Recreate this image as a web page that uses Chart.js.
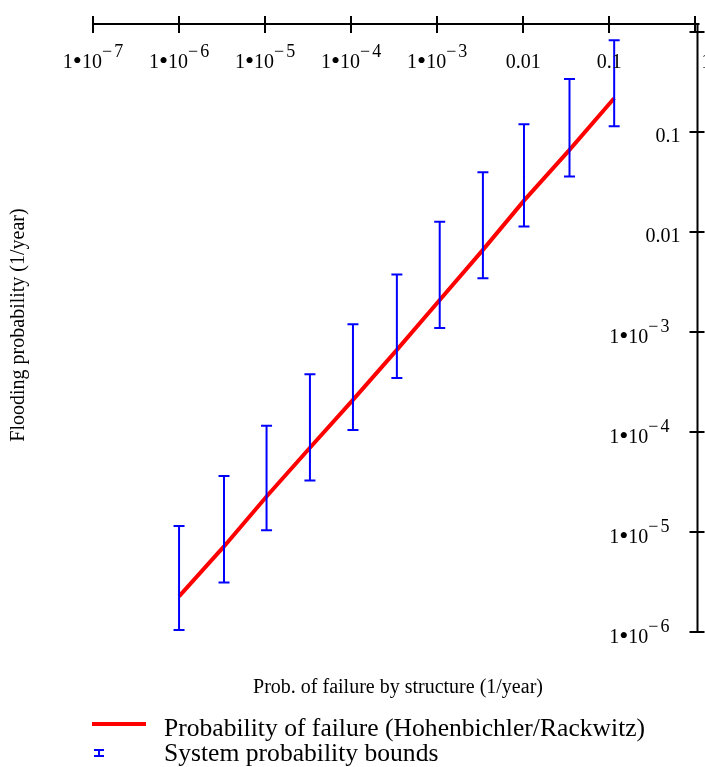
<!DOCTYPE html>
<html>
<head>
<meta charset="utf-8">
<script src="https://cdn.jsdelivr.net/npm/chart.js@4/dist/chart.umd.min.js"></script>
<style>
  html, body { margin: 0; padding: 0; background: #ffffff; }
  canvas { display: block; }
</style>
</head>
<body>
<canvas id="chart" width="705" height="767"></canvas>
<script>
// Failure probability of a single structure (1/year) at each evaluation point
const structProb = [1.0e-6, 3.33e-6, 1.04e-5, 3.32e-5, 1.05e-4, 3.40e-4, 1.07e-3, 3.40e-3, 1.02e-2, 3.45e-2, 0.114];
// Hohenbichler/Rackwitz estimate of the flooding probability
const hrProb = [2.27e-6, 7.18e-6, 2.27e-5, 6.97e-5, 2.10e-4, 6.65e-4, 2.10e-3, 6.65e-3, 2.07e-2, 6.65e-2, 0.219];
// Lower and upper system probability bounds
const lowerBound = [1.05e-6, 3.13e-6, 1.04e-5, 3.28e-5, 1.05e-4, 3.47e-4, 1.10e-3, 3.47e-3, 1.14e-2, 3.60e-2, 0.115];
const upperBound = [1.15e-5, 3.63e-5, 1.16e-4, 3.80e-4, 1.20e-3, 3.77e-3, 1.27e-2, 3.98e-2, 0.120, 0.341, 0.832];
// Decade exponents of the tick marks
const xTickExp = [-7, -6, -5, -4, -3, -2, -1, 0];
const yTickExp = [-6, -5, -4, -3, -2, -1, 0];

const seriesNames = ['Probability of failure (Hohenbichler/Rackwitz)', 'System probability bounds'];
const xTitle = 'Prob. of failure by structure (1/year)';
const yTitle = 'Flooding probability (1/year)';

const RED = '#ff0000';
const BLUE = '#0000ff';
const SERIF = '"Liberation Serif", "Times New Roman", serif';

// Each bound pair becomes one vertical segment; a null point breaks the line between pairs
const boundPts = [];
structProb.forEach((x, i) => {
  boundPts.push({ x: x, y: lowerBound[i] });
  boundPts.push({ x: x, y: upperBound[i] });
  boundPts.push({ x: x, y: null });
});
const hrPts = structProb.map((x, i) => ({ x: x, y: hrProb[i] }));

const MAIN_FONT = '20px ' + SERIF;
const DOT_FONT = '26px ' + SERIF;
const SUP_FONT = '18px ' + SERIF;

// A decade label: either a decimal, or "1•10" followed by a raised "−n"
function decadeRuns(e) {
  if (e >= -2) {
    return [{ t: Math.pow(10, e).toFixed(Math.max(0, -e)), f: MAIN_FONT, dy: 0, gap: 0 }];
  }
  return [
    { t: '1', f: MAIN_FONT, dy: 0, gap: 0 },
    { t: '\u2022', f: DOT_FONT, dy: 1, gap: 0 },
    { t: '10', f: MAIN_FONT, dy: 0, gap: 0 },
    { t: '\u2212', f: SUP_FONT, dy: -11, gap: 0 },
    { t: String(-e), f: SUP_FONT, dy: -11, gap: 2 }
  ];
}

function drawDecade(ctx, e, x, baseline, align) {
  const runs = decadeRuns(e);
  let total = 0;
  runs.forEach(r => { ctx.font = r.f; r.w = ctx.measureText(r.t).width; total += r.w + r.gap; });
  let cx = align === 'center' ? x - total / 2 : x - total;
  ctx.textAlign = 'left';
  ctx.textBaseline = 'alphabetic';
  ctx.fillStyle = '#000';
  runs.forEach(r => {
    cx += r.gap;
    ctx.font = r.f;
    ctx.fillText(r.t, cx, baseline + r.dy);
    cx += r.w;
  });
}

const axesPlugin = {
  id: 'mathAxes',
  afterDraw(chart) {
    const ctx = chart.ctx;
    const xs = chart.scales.x, ys = chart.scales.y;
    const top = chart.chartArea.top, right = chart.chartArea.right;
    const left = xs.getPixelForValue(1e-7), bottom = ys.getPixelForValue(1e-6);
    ctx.save();
    ctx.strokeStyle = '#000';
    ctx.lineWidth = 2;
    // axis lines
    ctx.beginPath();
    ctx.moveTo(left, top); ctx.lineTo(right + 2, top);
    ctx.moveTo(right, top - 1); ctx.lineTo(right, bottom);
    ctx.stroke();
    // x ticks (crossing the top axis)
    ctx.beginPath();
    xTickExp.forEach(e => {
      const px = Math.round(xs.getPixelForValue(Math.pow(10, e)));
      ctx.moveTo(px, top - 8); ctx.lineTo(px, top + 9);
    });
    // y ticks (crossing the right axis)
    yTickExp.forEach(e => {
      const py = Math.round(ys.getPixelForValue(Math.pow(10, e)));
      ctx.moveTo(right - 8, py); ctx.lineTo(right + 7, py);
    });
    ctx.stroke();
    // x tick labels
    xTickExp.forEach(e => {
      const px = xs.getPixelForValue(Math.pow(10, e));
      if (e === 0) {
        ctx.font = MAIN_FONT; ctx.fillStyle = '#000'; ctx.textAlign = 'left';
        ctx.fillText('1', px + 6, top + 44);
      } else {
        drawDecade(ctx, e, px, top + 44, 'center');
      }
    });
    // y tick labels
    yTickExp.forEach(e => {
      if (e === 0) return;
      const py = ys.getPixelForValue(Math.pow(10, e));
      if (e >= -2) drawDecade(ctx, e, right - 17, py + 10, 'right');
      else drawDecade(ctx, e, right - 28, py + 11, 'right');
    });
    // axis titles
    ctx.fillStyle = '#000';
    ctx.font = '20px ' + SERIF;
    ctx.textAlign = 'center';
    ctx.textBaseline = 'middle';
    ctx.fillText(xTitle, 398, 688);
    ctx.save();
    ctx.translate(19, 325);
    ctx.rotate(-Math.PI / 2);
    ctx.fillText(yTitle, 0, 0);
    ctx.restore();
    // legend
    ctx.strokeStyle = RED;
    ctx.lineWidth = 4;
    ctx.beginPath();
    ctx.moveTo(92, 724); ctx.lineTo(146, 724);
    ctx.stroke();
    ctx.strokeStyle = BLUE;
    ctx.lineWidth = 2;
    ctx.beginPath();
    ctx.moveTo(94, 750); ctx.lineTo(104, 750);
    ctx.moveTo(94, 756); ctx.lineTo(104, 756);
    ctx.moveTo(99, 750); ctx.lineTo(99, 756);
    ctx.stroke();
    ctx.fillStyle = '#000';
    ctx.font = '25.6px ' + SERIF;
    ctx.textAlign = 'left';
    ctx.textBaseline = 'alphabetic';
    ctx.fillText(seriesNames[0], 164, 736);
    ctx.fillText(seriesNames[1], 164, 761);
    ctx.restore();
  }
};

new Chart(document.getElementById('chart'), {
  type: 'line',
  data: {
    datasets: [
      {
        label: seriesNames[1],
        data: boundPts,
        borderColor: BLUE,
        borderWidth: 2,
        spanGaps: false,
        pointStyle: 'line',
        pointRadius: 5.5,
        pointBorderWidth: 2,
        pointBorderColor: BLUE,
        pointBackgroundColor: BLUE,
        fill: false,
        order: 0
      },
      {
        label: seriesNames[0],
        data: hrPts,
        borderColor: RED,
        borderWidth: 4,
        pointRadius: 0,
        tension: 0,
        fill: false,
        order: 1
      }
    ]
  },
  options: {
    responsive: false,
    animation: false,
    events: [],
    layout: { padding: { left: 93, right: 7, top: 24, bottom: 135 } },
    plugins: { legend: { display: false }, tooltip: { enabled: false } },
    scales: {
      x: { type: 'logarithmic', position: 'top', min: 1e-7, max: 1.06, display: false },
      y: { type: 'logarithmic', position: 'right', min: 1e-6, max: 1.21, display: false }
    }
  },
  plugins: [axesPlugin]
});
</script>
</body>
</html>
